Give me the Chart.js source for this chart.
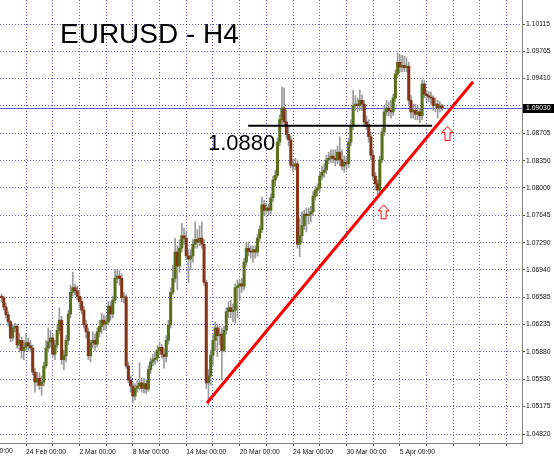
<!DOCTYPE html>
<html>
<head>
<meta charset="utf-8">
<title>EURUSD - H4</title>
<script src="https://cdn.jsdelivr.net/npm/chart.js@4.4.1/dist/chart.umd.min.js"></script>
<style>
  html, body { margin: 0; padding: 0; background: #fff; }
  #wrap { width: 554px; height: 457px; }
</style>
</head>
<body>
<div id="wrap"><canvas id="chart" width="554" height="457"></canvas></div>
<script>
// H4 bars, bar 0 = 24 Feb 00:00, first visible bar is 11 bars earlier
const firstBar = -11;

const opens = [
  1.0660,1.0658,1.0646,1.0636,1.0627,1.0606,1.0619,1.0621,1.0597,1.0603,1.0590,
  1.0594,1.0600,1.0596,1.0593,1.0562,1.0549,1.0554,1.0545,1.0549,1.0570,
  1.0593,1.0601,1.0606,1.0585,1.0597,1.0616,1.0629,1.0578,1.0583,1.0603,
  1.0637,1.0665,1.0671,1.0667,1.0660,1.0653,1.0642,1.0623,1.0614,1.0583,
  1.0600,1.0603,1.0598,1.0614,1.0621,1.0629,1.0624,1.0627,1.0647,1.0637,
  1.0655,1.0683,1.0686,1.0683,1.0658,1.0659,1.0570,1.0552,1.0544,1.0531,
  1.0541,1.0544,1.0548,1.0541,1.0547,1.0540,1.0565,1.0575,1.0578,1.0580,
  1.0590,1.0594,1.0585,1.0582,1.0603,1.0623,1.0665,1.0683,1.0717,1.0699,
  1.0722,1.0738,1.0735,1.0712,1.0708,1.0712,1.0727,1.0733,1.0730,1.0735,
  1.0727,1.0678,1.0548,1.0557,1.0584,1.0603,1.0619,1.0609,1.0611,1.0590,
  1.0616,1.0640,1.0645,1.0640,1.0642,1.0671,1.0673,1.0676,1.0673,1.0704,
  1.0722,1.0718,1.0717,1.0720,1.0717,1.0735,1.0746,1.0778,1.0771,1.0774,
  1.0771,1.0787,1.0810,1.0816,1.0859,1.0888,1.0903,1.0885,1.0869,1.0862,
  1.0829,1.0828,1.0831,1.0727,1.0738,1.0751,1.0766,1.0764,1.0766,1.0769,
  1.0789,1.0797,1.0800,1.0815,1.0820,1.0823,1.0836,1.0838,1.0841,1.0838,
  1.0836,1.0846,1.0836,1.0828,1.0833,1.0831,1.0859,1.0880,1.0906,1.0908,
  1.0906,1.0913,1.0908,1.0885,1.0882,1.0866,1.0842,1.0815,1.0805,1.0797,
  1.0836,1.0872,1.0898,1.0903,1.0900,1.0898,1.0916,1.0947,1.0962,1.0956,
  1.0958,1.0955,1.0957,1.0913,1.0898,1.0900,1.0895,1.0898,1.0893,1.0934,
  1.0921,1.0919,1.0917,1.0916,1.0906,1.0908,1.0903,1.0906
];
const highs = [
  1.0663,1.0660,1.0651,1.0640,1.0629,1.0624,1.0625,1.0624,1.0612,1.0607,1.0603,
  1.0612,1.0606,1.0603,1.0597,1.0567,1.0562,1.0561,1.0557,1.0575,1.0603,
  1.0619,1.0616,1.0611,1.0603,1.0623,1.0645,1.0634,1.0590,1.0609,1.0642,
  1.0674,1.0691,1.0676,1.0673,1.0668,1.0658,1.0647,1.0629,1.0619,1.0603,
  1.0614,1.0611,1.0619,1.0629,1.0638,1.0636,1.0634,1.0653,1.0653,1.0660,
  1.0694,1.0694,1.0693,1.0689,1.0665,1.0662,1.0575,1.0557,1.0549,1.0547,
  1.0552,1.0574,1.0554,1.0554,1.0552,1.0570,1.0580,1.0585,1.0588,1.0596,
  1.0601,1.0598,1.0593,1.0609,1.0629,1.0671,1.0700,1.0735,1.0725,1.0733,
  1.0754,1.0748,1.0743,1.0720,1.0720,1.0733,1.0756,1.0746,1.0751,1.0756,
  1.0733,1.0681,1.0565,1.0590,1.0610,1.0627,1.0624,1.0621,1.0619,1.0621,
  1.0645,1.0653,1.0655,1.0650,1.0676,1.0681,1.0681,1.0683,1.0709,1.0730,
  1.0730,1.0725,1.0725,1.0725,1.0740,1.0751,1.0788,1.0784,1.0780,1.0779,
  1.0792,1.0815,1.0823,1.0864,1.0894,1.0930,1.0929,1.0900,1.0880,1.0867,
  1.0836,1.0838,1.0836,1.0761,1.0769,1.0771,1.0774,1.0774,1.0776,1.0795,
  1.0802,1.0805,1.0820,1.0828,1.0831,1.0842,1.0846,1.0849,1.0849,1.0849,
  1.0854,1.0866,1.0849,1.0841,1.0841,1.0864,1.0888,1.0926,1.0919,1.0916,
  1.0926,1.0920,1.0913,1.0893,1.0888,1.0872,1.0849,1.0820,1.0810,1.0841,
  1.0877,1.0906,1.0913,1.0911,1.0913,1.0921,1.0952,1.0974,1.0971,1.0971,
  1.0970,1.0968,1.0962,1.0919,1.0908,1.0908,1.0906,1.0903,1.0939,1.0939,
  1.0926,1.0924,1.0924,1.0919,1.0916,1.0913,1.0911,1.0908
];
const lows = [
  1.0653,1.0642,1.0632,1.0621,1.0601,1.0602,1.0614,1.0593,1.0588,1.0580,1.0578,
  1.0590,1.0590,1.0588,1.0558,1.0536,1.0544,1.0539,1.0532,1.0544,1.0567,
  1.0588,1.0594,1.0582,1.0578,1.0593,1.0611,1.0572,1.0565,1.0575,1.0597,
  1.0632,1.0660,1.0662,1.0655,1.0645,1.0637,1.0619,1.0606,1.0578,1.0575,
  1.0593,1.0590,1.0594,1.0607,1.0612,1.0616,1.0616,1.0623,1.0629,1.0632,
  1.0651,1.0677,1.0674,1.0653,1.0651,1.0567,1.0548,1.0536,1.0522,1.0526,
  1.0536,1.0539,1.0536,1.0535,1.0534,1.0537,1.0560,1.0570,1.0572,1.0575,
  1.0585,1.0580,1.0567,1.0575,1.0598,1.0619,1.0662,1.0678,1.0668,1.0691,
  1.0717,1.0727,1.0707,1.0678,1.0694,1.0704,1.0722,1.0722,1.0725,1.0722,
  1.0674,1.0541,1.0519,1.0545,1.0571,1.0590,1.0582,1.0597,1.0552,1.0588,
  1.0611,1.0632,1.0632,1.0627,1.0625,1.0632,1.0655,1.0665,1.0668,1.0699,
  1.0712,1.0709,1.0704,1.0709,1.0712,1.0730,1.0742,1.0765,1.0766,1.0764,
  1.0766,1.0782,1.0802,1.0813,1.0854,1.0882,1.0880,1.0864,1.0854,1.0826,
  1.0820,1.0823,1.0722,1.0711,1.0729,1.0746,1.0743,1.0753,1.0756,1.0764,
  1.0784,1.0789,1.0795,1.0810,1.0813,1.0818,1.0831,1.0833,1.0832,1.0828,
  1.0831,1.0828,1.0823,1.0820,1.0823,1.0826,1.0854,1.0875,1.0900,1.0898,
  1.0900,1.0900,1.0880,1.0875,1.0859,1.0836,1.0810,1.0797,1.0791,1.0793,
  1.0832,1.0867,1.0893,1.0893,1.0890,1.0893,1.0911,1.0942,1.0950,1.0950,
  1.0950,1.0950,1.0908,1.0890,1.0890,1.0888,1.0888,1.0884,1.0888,1.0916,
  1.0911,1.0911,1.0908,1.0900,1.0898,1.0890,1.0898,1.0900
];
const closes = [
  1.0658,1.0646,1.0636,1.0627,1.0606,1.0619,1.0621,1.0597,1.0603,1.0590,1.0594,
  1.0600,1.0596,1.0593,1.0562,1.0549,1.0554,1.0545,1.0549,1.0570,1.0593,
  1.0601,1.0606,1.0585,1.0597,1.0616,1.0629,1.0578,1.0583,1.0603,1.0637,
  1.0665,1.0671,1.0667,1.0660,1.0653,1.0642,1.0623,1.0614,1.0583,1.0600,
  1.0603,1.0598,1.0614,1.0621,1.0629,1.0624,1.0627,1.0647,1.0637,1.0655,
  1.0683,1.0686,1.0683,1.0658,1.0659,1.0570,1.0552,1.0544,1.0531,1.0541,
  1.0544,1.0548,1.0541,1.0547,1.0540,1.0565,1.0575,1.0578,1.0580,1.0590,
  1.0594,1.0585,1.0582,1.0603,1.0623,1.0665,1.0683,1.0717,1.0699,1.0722,
  1.0738,1.0735,1.0712,1.0708,1.0712,1.0727,1.0733,1.0730,1.0735,1.0727,
  1.0678,1.0548,1.0557,1.0584,1.0603,1.0619,1.0609,1.0611,1.0590,1.0616,
  1.0640,1.0645,1.0640,1.0642,1.0671,1.0673,1.0676,1.0673,1.0704,1.0722,
  1.0718,1.0717,1.0720,1.0717,1.0735,1.0746,1.0778,1.0771,1.0774,1.0771,
  1.0787,1.0810,1.0816,1.0859,1.0888,1.0903,1.0885,1.0869,1.0862,1.0829,
  1.0828,1.0831,1.0727,1.0738,1.0751,1.0766,1.0764,1.0766,1.0769,1.0789,
  1.0797,1.0800,1.0815,1.0820,1.0823,1.0836,1.0838,1.0841,1.0838,1.0836,
  1.0846,1.0836,1.0828,1.0833,1.0831,1.0859,1.0880,1.0906,1.0908,1.0906,
  1.0913,1.0908,1.0885,1.0882,1.0866,1.0842,1.0815,1.0805,1.0797,1.0836,
  1.0872,1.0898,1.0903,1.0900,1.0898,1.0916,1.0947,1.0962,1.0956,1.0958,
  1.0955,1.0957,1.0913,1.0898,1.0900,1.0895,1.0898,1.0893,1.0934,1.0921,
  1.0919,1.0917,1.0916,1.0906,1.0908,1.0903,1.0906,1.0903
];

// time axis labels (bar index -> text), one every 24 bars
const dateTicks  = [-24, 0, 24, 48, 72, 96, 120, 144, 168];
const dateLabels = ["20 Feb 00:00", "24 Feb 00:00", "2 Mar 00:00", "8 Mar 00:00", "14 Mar 00:00",
                    "20 Mar 00:00", "24 Mar 00:00", "30 Mar 00:00", "5 Apr 00:00"];
// price axis levels
const priceTicks = [1.04820, 1.05175, 1.05530, 1.05880, 1.06235, 1.06585, 1.06940, 1.07290,
                    1.07645, 1.08000, 1.08350, 1.08705, 1.09058, 1.09410, 1.09765, 1.10115];
const bidPrice = 1.09030;

// drawn objects
const trendX = [81.3, 200.9];
const trendY = [1.0522, 1.0937];
const levelX = [99.8, 182.5];
const levelPrice = 1.0880;
const arrowX = [160.7, 189.4];
const arrowY = [1.0778, 1.0879];

const xMin = -11.7, xMax = 222.9;
const yMin = 1.04704, yMax = 1.10425;

const FONT = '"Liberation Sans", Arial, sans-serif';
const gridColor = '#5a5acc';
const upColor = '#596f1a';
const downColor = '#843418';

const barIdx = opens.map((o, k) => firstBar + k);
const gridBars = [];
for (let b = 0; b <= 216; b += 12) gridBars.push(b);

function drawArrow(ctx, cx, top) {
  const hw = 5.5, head = 6, sw = 2.5, h = 14;
  ctx.beginPath();
  ctx.moveTo(cx, top);
  ctx.lineTo(cx + hw, top + head);
  ctx.lineTo(cx + sw, top + head);
  ctx.lineTo(cx + sw, top + h);
  ctx.lineTo(cx - sw, top + h);
  ctx.lineTo(cx - sw, top + head);
  ctx.lineTo(cx - hw, top + head);
  ctx.closePath();
  ctx.fillStyle = '#fff';
  ctx.fill();
  ctx.strokeStyle = '#ff0000';
  ctx.lineWidth = 1;
  ctx.stroke();
}

const overlay = {
  id: 'overlay',
  beforeDatasetsDraw(chart) {
    const { ctx, chartArea, scales } = chart;
    const y = Math.round(scales.y.getPixelForValue(bidPrice)) + 0.5;
    ctx.save();
    ctx.strokeStyle = '#5c5cd0';
    ctx.lineWidth = 1;
    ctx.beginPath();
    ctx.moveTo(chartArea.left, y);
    ctx.lineTo(chartArea.right, y);
    ctx.stroke();
    ctx.restore();
  },
  afterDraw(chart) {
    const { ctx, chartArea, scales } = chart;
    ctx.save();
    // title
    ctx.fillStyle = '#000';
    ctx.font = '28px ' + FONT;
    ctx.textBaseline = 'alphabetic';
    ctx.textAlign = 'left';
    ctx.fillText('EURUSD - H4', 60, 43);
    // level text
    ctx.font = '22px ' + FONT;
    ctx.fillText(levelPrice.toFixed(4), 208, 150);
    // arrows
    arrowX.forEach((x, k) => {
      drawArrow(ctx, scales.x.getPixelForValue(x), scales.y.getPixelForValue(arrowY[k]));
    });
    // bid label on the price axis
    const by = Math.round(scales.y.getPixelForValue(bidPrice));
    ctx.fillStyle = '#000';
    ctx.fillRect(chartArea.right + 1, by - 4, chart.width - chartArea.right - 1, 9);
    ctx.fillStyle = '#fff';
    ctx.font = '6.8px ' + FONT;
    ctx.textBaseline = 'middle';
    ctx.fillText(bidPrice.toFixed(5), chartArea.right + 4, by + 0.5);
    // cut-off time label left of the visible range
    ctx.fillStyle = '#111';
    ctx.textBaseline = 'top';
    ctx.fillText(dateLabels[0], scales.x.getPixelForValue(dateTicks[0]), chartArea.bottom + 5);
    ctx.restore();
  }
};

new Chart(document.getElementById('chart'), {
  type: 'bar',
  data: {
    datasets: [
      {
        type: 'line',
        data: trendX.map((x, k) => ({ x: x, y: trendY[k] })),
        borderColor: '#ff0000',
        borderWidth: 3,
        pointRadius: 0
      },
      {
        type: 'line',
        data: levelX.map(x => ({ x: x, y: levelPrice })),
        borderColor: '#000',
        borderWidth: 2,
        pointRadius: 0
      },
      {
        data: barIdx.map((x, k) => ({ x: x, y: [opens[k], closes[k]] })),
        backgroundColor: barIdx.map((x, k) => closes[k] >= opens[k] ? upColor : downColor),
        barThickness: 2.4,
        minBarLength: 1,
        grouped: false
      },
      {
        data: barIdx.map((x, k) => ({ x: x, y: [lows[k], highs[k]] })),
        backgroundColor: '#9a9a9a',
        barThickness: 1,
        grouped: false
      }
    ]
  },
  options: {
    responsive: false,
    animation: false,
    layout: { padding: 0 },
    plugins: { legend: { display: false }, tooltip: { enabled: false } },
    scales: {
      x: {
        type: 'linear',
        position: 'bottom',
        offset: false,
        min: xMin,
        max: xMax,
        afterBuildTicks: s => { s.ticks = gridBars.map(v => ({ value: v })); },
        afterFit: s => { s.height = 14; s.paddingLeft = 0; s.paddingRight = 0; },
        ticks: {
          autoSkip: false,
          maxRotation: 0,
          align: 'start',
          padding: 2,
          color: '#111',
          font: { family: FONT, size: 6.8 },
          callback: v => {
            const k = dateTicks.indexOf(v);
            return k < 0 ? '' : dateLabels[k];
          }
        },
        grid: { offset: false, color: gridColor, borderDash: [1, 2], tickLength: 3, tickColor: '#555', tickBorderDash: [] },
        border: { color: '#808080', dash: [1, 2] }
      },
      y: {
        type: 'linear',
        position: 'right',
        min: yMin,
        max: yMax,
        afterBuildTicks: s => { s.ticks = priceTicks.map(v => ({ value: v })); },
        afterFit: s => { s.width = 32; s.paddingTop = 0; s.paddingBottom = 0; },
        ticks: {
          padding: 1,
          color: '#111',
          font: { family: FONT, size: 6.8 },
          callback: v => Math.abs(v - bidPrice) < 0.001 ? '' : v.toFixed(5)
        },
        grid: { color: gridColor, borderDash: [1, 2], tickLength: 3, tickColor: '#555', tickBorderDash: [] },
        border: { color: '#808080', dash: [1, 2] }
      }
    }
  },
  plugins: [overlay]
});
</script>
</body>
</html>
